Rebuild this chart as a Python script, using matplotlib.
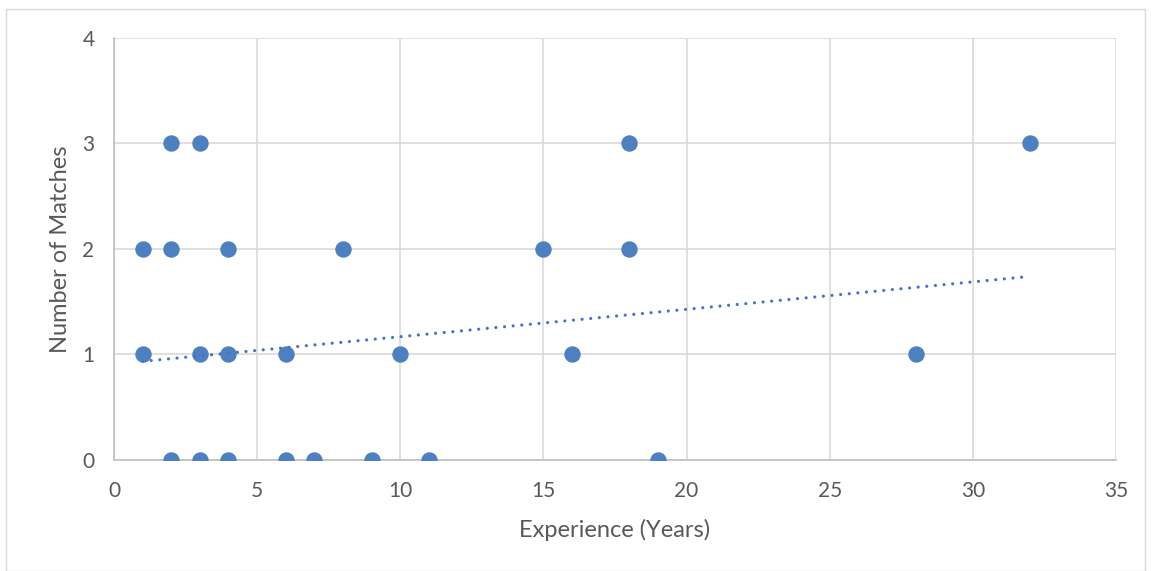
import matplotlib.pyplot as plt
from matplotlib.patches import Rectangle

# experience (years) vs number of matches
experience = [1, 1, 2, 2, 2, 3, 3, 3, 4, 4, 4, 6, 6, 7, 8, 9, 10, 11, 15, 16, 18, 18, 19, 28, 32]
matches = [2, 1, 3, 2, 0, 3, 1, 0, 2, 1, 0, 1, 0, 0, 2, 0, 1, 0, 2, 1, 3, 2, 0, 1, 3]

# linear trendline (ends)
trend_x = [1, 32]
trend_y = [0.935, 1.74]

x_ticks = [0, 5, 10, 15, 20, 25, 30, 35]
y_ticks = [0, 1, 2, 3, 4]

plt.rcParams['font.family'] = ['Lato', 'DejaVu Sans']

fig = plt.figure(figsize=(11.51, 5.71), dpi=100)
ax = fig.add_axes([0.0990, 0.1944, 0.8706, 0.7391])

# outer chart border
fig.patches.append(Rectangle((6 / 1151, 0.0), 1139 / 1151, 1 - 9 / 571, transform=fig.transFigure,
                             fill=False, edgecolor='#D9D9D9', linewidth=1.0))

ax.scatter(experience, matches, s=140, color='#4E7FBF', zorder=3, linewidths=0)
ax.plot(trend_x, trend_y, color='#4472C4', linewidth=2.3, linestyle=(0, (0.01, 2.7)),
        dash_capstyle='round', zorder=4)

ax.set_xlim(0, 35)
ax.set_ylim(0, 4)
ax.set_xticks(x_ticks)
ax.set_yticks(y_ticks)
ax.grid(True, color='#D9D9D9', linewidth=1.2)
ax.set_axisbelow(True)
for side in ['top', 'right']:
    ax.spines[side].set_visible(False)
for side in ['left', 'bottom']:
    ax.spines[side].set_color('#BFBFBF')
    ax.spines[side].set_linewidth(1.2)
ax.tick_params(axis='x', length=0, labelsize=15, labelcolor='#595959', pad=15)
ax.tick_params(axis='y', length=0, labelsize=15, labelcolor='#595959', pad=14)

ax.set_xlabel('Experience (Years)', fontsize=17, color='#595959', labelpad=13)
ax.set_ylabel('Number of Matches', fontsize=17, color='#595959', labelpad=8)

fig.savefig('out.png', dpi=100)
